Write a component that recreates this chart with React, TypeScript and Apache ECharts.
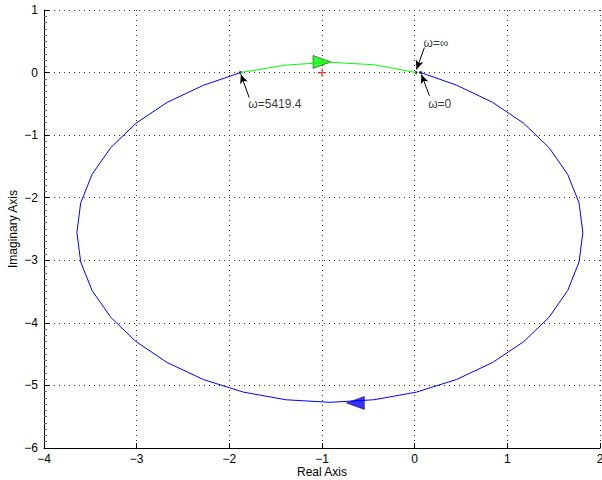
import React, { useEffect, useRef } from "react";
import * as echarts from "echarts";

// Nyquist curve (Real, Imag)
const bluePath: number[][] = [
  [0.065, 0.0], [0.45, -0.2], [0.84, -0.475], [1.176, -0.809], [1.449, -1.198],
  [1.651, -1.626], [1.774, -2.083], [1.815, -2.555], [1.774, -3.027], [1.651, -3.484],
  [1.449, -3.913], [1.176, -4.301], [0.84, -4.635], [0.45, -4.906], [0.019, -5.107],
  [-0.44, -5.229], [-0.915, -5.27], [-1.39, -5.229], [-1.849, -5.107], [-2.28, -4.906],
  [-2.67, -4.635], [-3.006, -4.301], [-3.279, -3.913], [-3.481, -3.484], [-3.604, -3.027],
  [-3.645, -2.555], [-3.604, -2.083], [-3.481, -1.626], [-3.279, -1.198], [-3.006, -0.809],
  [-2.67, -0.475], [-2.28, -0.204], [-1.88, 0.0],
];
const greenPath: number[][] = [
  [-1.88, 0.0], [-1.39, 0.12], [-0.915, 0.165], [-0.44, 0.125], [0.015, 0.0],
];
const frequencyPoints: number[][] = [[-1.88, 0.0], [0.015, 0.0], [0.065, 0.0]];
const criticalPoint: number[][] = [[-1, 0]];
const greenArrowAt: number[] = [-1.0, 0.17];
const blueArrowAt: number[] = [-0.64, -5.28];

const annotationLabels = ["ω=5419.4", "ω=∞", "ω=0"];
const annotationTextAt: number[][] = [[-1.8, -0.51], [0.09, 0.48], [0.14, -0.51]];
const annotationArrowFrom: number[][] = [[-1.786, -0.4], [0.105, 0.4], [0.159, -0.37]];
const annotationArrowTo: number[][] = [[-1.875, -0.03], [0.02, 0.05], [0.073, -0.03]];

const xTicks = { min: -4, max: 2, interval: 1 };
const yTicks = { min: -6, max: 1, interval: 1 };

const FONT = "Liberation Sans, Arial, Helvetica, sans-serif";
const fmt = (v: number) => String(v).replace("-", "\u2212");

export default function App() {
  const ref = useRef<HTMLDivElement>(null);
  useEffect(() => {
    if (!ref.current) return;
    const chart = echarts.init(ref.current, undefined, { renderer: "svg" });
    const axisCommon = {
      type: "value" as const,
      nameLocation: "middle" as const,
      nameMoveOverlap: false,
      nameTextStyle: { color: "#000", fontSize: 12, lineHeight: 12, fontFamily: FONT },
      axisLine: { show: true, onZero: false, lineStyle: { color: "#000", width: 1 } },
      axisTick: { show: true, inside: true, length: 5, lineStyle: { color: "#000" } },
      axisLabel: { color: "#000", fontSize: 12, lineHeight: 12, fontFamily: FONT, formatter: fmt },
      splitLine: { show: true, lineStyle: { color: "#333", type: [1, 4], width: 1 } },
    };
    chart.setOption({
      animation: false,
      backgroundColor: "#fff",
      grid: {
        left: 44,
        right: 2,
        top: 10,
        bottom: 32,
        containLabel: false,
        outerBoundsMode: "none",
      },
      xAxis: {
        ...axisCommon,
        ...xTicks,
        name: "Real Axis",
        nameGap: 18,
        axisLabel: { ...axisCommon.axisLabel, margin: 5 },
      },
      yAxis: {
        ...axisCommon,
        ...yTicks,
        name: "Imaginary Axis",
        nameGap: 25,
        axisLabel: { ...axisCommon.axisLabel, margin: 6 },
        minorTick: { show: true, splitNumber: 10, length: 3, lineStyle: { color: "#666" } },
      },
      series: [
        {
          type: "line",
          data: bluePath,
          showSymbol: false,
          symbol: "none",
          lineStyle: { color: "#0000ff", width: 1 },
          silent: true,
        },
        {
          type: "line",
          data: greenPath,
          showSymbol: false,
          symbol: "none",
          lineStyle: { color: "#00ff00", width: 1 },
          silent: true,
          markLine: {
            silent: true,
            symbol: ["none", "arrow"],
            symbolSize: [6, 9],
            label: { show: false },
            lineStyle: { color: "#000", width: 1, type: "solid" },
            data: annotationArrowFrom.map((f, i) => [
              { coord: f },
              { coord: annotationArrowTo[i] },
            ]),
          },
        },
        {
          type: "scatter",
          data: frequencyPoints,
          symbol: "circle",
          symbolSize: 3,
          itemStyle: { color: "#000" },
          silent: true,
        },
        {
          type: "scatter",
          data: criticalPoint,
          symbol: "path://M4,0h1.4v4.3h4.3v1.4h-4.3v4.3h-1.4v-4.3h-4.3v-1.4h4.3z",
          symbolSize: 8,
          itemStyle: { color: "#ff0000" },
          silent: true,
        },
        {
          type: "scatter",
          data: [greenArrowAt],
          symbol: "triangle",
          symbolSize: [13, 18],
          symbolRotate: -90,
          itemStyle: { color: "#00ff00", borderColor: "#000", borderWidth: 0.6 },
          silent: true,
        },
        {
          type: "scatter",
          data: [blueArrowAt],
          symbol: "triangle",
          symbolSize: [13, 18],
          symbolRotate: 90,
          itemStyle: { color: "#0000ff", borderColor: "#000", borderWidth: 0.6 },
          silent: true,
        },
        {
          type: "scatter",
          data: annotationLabels.map((name, i) => ({ name, value: annotationTextAt[i] })),
          symbol: "circle",
          symbolSize: 1,
          itemStyle: { color: "rgba(0,0,0,0)" },
          silent: true,
          label: {
            show: true,
            position: "right",
            distance: 0,
            formatter: "{b}",
            color: "#000",
            fontSize: 12,
            fontFamily: FONT,
          },
        },
      ],
    });
    return () => chart.dispose();
  }, []);
  return (
    <div
      ref={ref}
      style={{ position: "fixed", left: 0, top: 0, width: 602, height: 480, background: "#fff" }}
    />
  );
}
